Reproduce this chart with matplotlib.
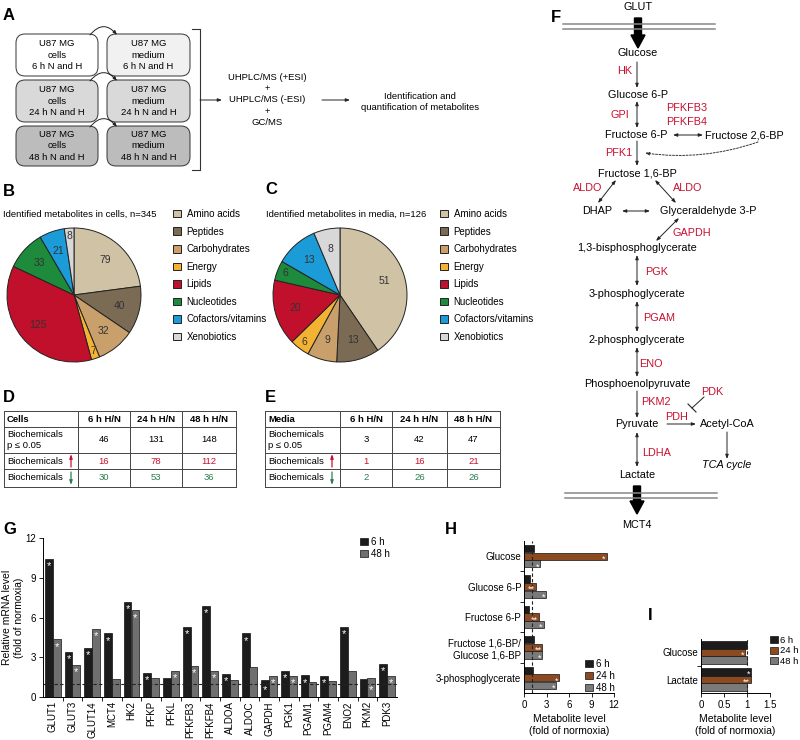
import numpy as np
import matplotlib.pyplot as plt
from matplotlib.patches import FancyBboxPatch, FancyArrow

plt.rcParams['font.family'] = ['Liberation Sans', 'DejaVu Sans']
plt.rcParams['font.size'] = 7
plt.rcParams['axes.linewidth'] = 0.7

# ---- data ----
pie_cats = ['Amino acids', 'Peptides', 'Carbohydrates', 'Energy', 'Lipids',
            'Nucleotides', 'Cofactors/vitamins', 'Xenobiotics']
pie_colors = ['#cfc2a5', '#7b6b55', '#c9a06c', '#f4b233', '#c1102b',
              '#1d8a3c', '#1b9bd7', '#d8d8d8']
cells_counts = [79, 40, 32, 7, 125, 33, 21, 8]
media_counts = [51, 13, 9, 6, 20, 6, 13, 8]

table_cols = ['6 h H/N', '24 h H/N', '48 h H/N']
cells_sig = [46, 131, 148]
cells_up = [16, 78, 112]
cells_down = [30, 53, 36]
media_sig = [3, 42, 47]
media_up = [1, 16, 21]
media_down = [2, 26, 26]

genes = ['GLUT1', 'GLUT3', 'GLUT14', 'MCT4', 'HK2', 'PFKP', 'PFKL', 'PFKFB3', 'PFKFB4',
         'ALDOA', 'ALDOC', 'GAPDH', 'PGK1', 'PGAM1', 'PGAM4', 'ENO2', 'PKM2', 'PDK3']
mrna_6h = [10.4, 3.4, 3.7, 4.8, 7.15, 1.8, 1.43, 5.3, 6.9,
           1.73, 4.8, 1.28, 1.96, 1.63, 1.58, 5.3, 1.35, 2.5]
mrna_48h = [4.35, 2.42, 5.15, 1.35, 6.53, 1.43, 1.96, 2.32, 1.96,
            1.3, 2.3, 1.58, 1.58, 1.12, 1.17, 1.96, 1.43, 1.6]
sig_6h = [1, 1, 1, 1, 1, 1, 0, 1, 1, 1, 1, 1, 1, 1, 1, 1, 0, 1]
sig_48h = [1, 1, 1, 0, 1, 0, 1, 1, 1, 0, 0, 1, 1, 0, 0, 0, 1, 1]

h_metabolites = ['Glucose', 'Glucose 6-P', 'Fructose 6-P',
                 'Fructose 1,6-BP/\nGlucose 1,6-BP', '3-phosphoglycerate']
h_6h = [1.3, 0.75, 0.7, 1.3, 1.2]
h_24h = [11.0, 1.6, 2.0, 2.45, 4.7]
h_48h = [2.1, 2.9, 2.6, 2.4, 4.25]
h_mark_6h = ['', '', '', '', '']
h_mark_24h = ['*', '**', '**', '**', '*']
h_mark_48h = ['*', '*', '*', '*', '*']

i_metabolites = ['Glucose', 'Lactate']
i_6h = [1.0, 1.08]
i_24h = [0.96, 1.08]
i_48h = [1.0, 1.0]
i_mark_6h = ['', '*']
i_mark_24h = ['*', '**']
i_mark_48h = ['', '']

c6, c24, c48 = '#1c1c1c', '#8b4a1f', '#7a7a7a'
red, green = '#c8102e', '#2e7d4f'

fig = plt.figure(figsize=(8, 7.4), dpi=100)
ov = fig.add_axes([0, 0, 1, 1])
ov.set_xlim(0, 800)
ov.set_ylim(740, 0)
ov.axis('off')


def box(x0, y0, x1, y1):
    a = fig.add_axes([x0 / 800, 1 - y1 / 740, (x1 - x0) / 800, (y1 - y0) / 740])
    a.set_facecolor('none')
    return a


def arr(x0, y0, x1, y1, style='-|>', **kw):
    ov.annotate('', xy=(x1, y1), xytext=(x0, y0),
                arrowprops=dict(arrowstyle=style + ',head_length=0.35,head_width=0.13',
                                color='#222', lw=0.7, shrinkA=0, shrinkB=0, **kw))


for lab, x, y in [('A', 3, 15), ('B', 3, 192), ('C', 265, 190), ('D', 3, 398), ('E', 265, 398),
                  ('F', 551, 17), ('G', 3, 530), ('H', 445, 530), ('I', 648, 615)]:
    ov.text(x, y, lab, fontsize=12, fontweight='bold', ha='left', va='center')

# ---- A: workflow ----
box_cols = [(16, 98), (107, 190)]
rows = [(34, 76), (80, 122), (126, 166)]
fills = [['white', '#f1f1f1'], ['#d9d9d9', '#d9d9d9'], ['#bcbcbc', '#bcbcbc']]
times = ['6 h', '24 h', '48 h']
for r, (y0, y1) in enumerate(rows):
    for c, (x0, x1) in enumerate(box_cols):
        ov.add_patch(FancyBboxPatch((x0, y0), x1 - x0, y1 - y0,
                                    boxstyle='round,pad=0,rounding_size=9',
                                    fc=fills[r][c], ec='#333', lw=0.7))
        what = 'cells' if c == 0 else 'medium'
        ov.text((x0 + x1) / 2, (y0 + y1) / 2, f'U87 MG\n{what}\n{times[r]} N and H',
                ha='center', va='center', fontsize=6.8, linespacing=1.3)
    arr(90, y0 + 1, 117, y0 + 1, connectionstyle='arc3,rad=-0.6')

ov.plot([192, 200, 200, 192], [29, 29, 170, 170], color='#333', lw=0.8)
arr(200, 100, 222, 100)
ov.text(267, 100, 'UHPLC/MS (+ESI)\n+\nUHPLC/MS (-ESI)\n+\nGC/MS',
        ha='center', va='center', fontsize=6.8, linespacing=1.35)
arr(322, 100, 350, 100)
ov.text(420, 102, 'Identification and\nquantification of metabolites',
        ha='center', va='center', fontsize=6.8, linespacing=1.3)


# ---- B, C: pies ----
def draw_pie(cx, title, counts, title_x, leg_x):
    ax = box(cx - 68, 227, cx + 68, 363)
    wedges, _ = ax.pie(counts, colors=pie_colors, startangle=90, counterclock=False,
                       wedgeprops=dict(edgecolor='#222', linewidth=0.7))
    ax.set_xlim(-68 / 67, 68 / 67)
    ax.set_ylim(-68 / 67, 68 / 67)
    total = sum(counts)
    for w, n in zip(wedges, counts):
        ang = np.deg2rad((w.theta1 + w.theta2) / 2)
        rr = 0.88 if n / total < 0.06 else 0.7
        ax.text(rr * np.cos(ang), rr * np.sin(ang), str(n), ha='center', va='center',
                fontsize=7.5, color='#333')
    ov.text(title_x, 214, title, ha='left', va='center', fontsize=6.8)
    ax.legend(wedges, pie_cats, loc='upper left', frameon=False,
              bbox_to_anchor=(leg_x / 800, 1 - 209 / 740), bbox_transform=fig.transFigure,
              fontsize=7, handlelength=0.8, handleheight=0.8, labelspacing=0.78,
              handletextpad=0.6, borderpad=0, borderaxespad=0)


draw_pie(74, 'Identified metabolites in cells, n=345', cells_counts, 3, 173)
draw_pie(340, 'Identified metabolites in media, n=126', media_counts, 266, 440)


# ---- D, E: tables ----
def draw_table(xc, name, sig, up, down):
    ys = [411, 427, 453, 469, 487]
    for y in ys:
        ov.plot([xc[0], xc[-1]], [y, y], color='#444', lw=0.7)
    for x in xc:
        ov.plot([x, x], [ys[0], ys[-1]], color='#444', lw=0.7)
    ov.text(xc[0] + 3, 419, name, fontweight='bold', ha='left', va='center', fontsize=6.8)
    ov.text(xc[0] + 3, 440, 'Biochemicals\np ≤ 0.05', ha='left', va='center', fontsize=6.8,
            linespacing=1.3)
    ov.text(xc[0] + 3, 461, 'Biochemicals', ha='left', va='center', fontsize=6.8)
    ov.text(xc[0] + 3, 478, 'Biochemicals', ha='left', va='center', fontsize=6.8)
    ov.annotate('', xy=(xc[0] + 67, 454), xytext=(xc[0] + 67, 467),
                arrowprops=dict(arrowstyle='-|>,head_length=0.35,head_width=0.12',
                                color=red, lw=0.9, shrinkA=0, shrinkB=0))
    ov.annotate('', xy=(xc[0] + 67, 485), xytext=(xc[0] + 67, 472),
                arrowprops=dict(arrowstyle='-|>,head_length=0.35,head_width=0.12',
                                color=green, lw=0.9, shrinkA=0, shrinkB=0))
    for k in range(3):
        mx = (xc[k + 1] + xc[k + 2]) / 2
        ov.text(mx, 419, table_cols[k], fontweight='bold', ha='center', va='center', fontsize=6.8)
        ov.text(mx, 440, str(sig[k]), ha='center', va='center', fontsize=6.8)
        ov.text(mx, 461, str(up[k]), ha='center', va='center', fontsize=6.8, color=red)
        ov.text(mx, 478, str(down[k]), ha='center', va='center', fontsize=6.8, color=green)


draw_table([4, 78, 130, 182, 236], 'Cells', cells_sig, cells_up, cells_down)
draw_table([265, 340, 392, 447, 500], 'Media', media_sig, media_up, media_down)

# ---- F: glycolysis pathway ----
fs = 7.8
for yy in (23.5, 28.5, 492.5, 497.5):
    x0, x1 = (563, 715) if yy < 100 else (565, 717)
    ov.plot([x0, x1], [yy, yy], color='#888', lw=1.1)
ov.text(638, 7, 'GLUT', ha='center', va='center', fontsize=fs)
ov.text(637, 525, 'MCT4', ha='center', va='center', fontsize=fs)
ov.add_patch(FancyArrow(638, 18, 0, 30, width=7, head_width=14, head_length=13,
                        length_includes_head=True, color='black'))
ov.add_patch(FancyArrow(637, 486, 0, 28, width=7, head_width=14, head_length=13,
                        length_includes_head=True, color='black'))

nodes = [('Glucose', 638, 53), ('Glucose 6-P', 638, 95), ('Fructose 6-P', 636, 135),
         ('Fructose 1,6-BP', 637, 173), ('DHAP', 597, 211), ('Glyceraldehyde 3-P', 708, 211),
         ('1,3-bisphosphoglycerate', 637, 248), ('3-phosphoglycerate', 637, 294),
         ('2-phosphoglycerate', 637, 340), ('Phosphoenolpyruvate', 637, 384),
         ('Pyruvate', 637, 424), ('Acetyl-CoA', 727, 424), ('Lactate', 637, 475)]
for t, x, y in nodes:
    ov.text(x, y, t, ha='center', va='center', fontsize=fs)
ov.text(705, 135, 'Fructose 2,6-BP', ha='left', va='center', fontsize=fs)
ov.text(727, 465, 'TCA cycle', ha='center', va='center', fontsize=fs, style='italic')

enzymes = [('HK', 625, 71), ('GPI', 620, 115), ('PFKFB3', 687, 108), ('PFKFB4', 687, 122),
           ('PFK1', 619, 153), ('ALDO', 588, 188), ('ALDO', 688, 188), ('GAPDH', 692, 233),
           ('PGK', 657, 272), ('PGAM', 659, 318), ('ENO', 651, 364), ('PKM2', 656, 402),
           ('PDK', 712, 392), ('PDH', 677, 417), ('LDHA', 657, 453)]
for t, x, y in enzymes:
    ov.text(x, y, t, ha='center', va='center', fontsize=fs, color=red)

arr(637, 62, 637, 88)
arr(637, 101, 637, 128, style='<|-|>')
arr(673, 135, 703, 135, style='<|-|>')
arr(637, 141, 637, 166)
arr(616, 180, 598, 203, style='<|-|>')
arr(655, 180, 676, 203, style='<|-|>')
arr(622, 211, 650, 211, style='<|-|>')
arr(679, 218, 656, 241, style='<|-|>')
arr(637, 255, 637, 286, style='<|-|>')
arr(637, 301, 637, 332, style='<|-|>')
arr(637, 347, 637, 377, style='<|-|>')
arr(637, 391, 637, 418)
arr(667, 424, 696, 424)
arr(727, 432, 727, 459)
arr(637, 432, 637, 467, style='<|-|>')
ov.annotate('', xy=(645, 153), xytext=(758, 142),
            arrowprops=dict(arrowstyle='-|>,head_length=0.35,head_width=0.13', color='#333',
                            lw=0.7, ls=(0, (2, 1.5)), shrinkA=0, shrinkB=0,
                            connectionstyle='arc3,rad=-0.12'))
ov.plot([704, 692], [397, 408], color='#222', lw=0.7)
ov.plot([688, 696], [404, 412], color='#222', lw=0.8)

# ---- G: mRNA bars ----
axg = box(43, 538, 397, 697)
xg = np.arange(len(genes))
axg.bar(xg - 0.2, mrna_6h, width=0.4, color=c6, edgecolor='#111', lw=0.5, label='6 h')
axg.bar(xg + 0.2, mrna_48h, width=0.4, color='#6f6f6f', edgecolor='#111', lw=0.5, label='48 h')
for xi, v, s in zip(xg - 0.2, mrna_6h, sig_6h):
    if s:
        axg.text(xi, v - 0.55 if v >= 1.5 else 0.55, '*', color='white', ha='center',
                 va='center', fontsize=8)
for xi, v, s in zip(xg + 0.2, mrna_48h, sig_48h):
    if s:
        axg.text(xi, v - 0.55 if v >= 1.5 else 0.55, '*', color='white', ha='center',
                 va='center', fontsize=8)
axg.axhline(1, color='#222', lw=0.8, ls=(0, (3, 2)))
axg.set_xlim(-0.5, len(genes) - 0.5)
axg.set_ylim(0, 12)
axg.set_yticks([0, 3, 6, 9, 12])
axg.set_xticks(xg)
axg.set_xticklabels(genes, rotation=90)
axg.set_xticks(xg[:-1] + 0.5, minor=True)
axg.tick_params(axis='x', which='major', length=0, pad=3, labelsize=7)
axg.tick_params(axis='x', which='minor', length=3, width=0.6)
axg.tick_params(axis='y', length=3, width=0.6, pad=2, labelsize=7)
axg.spines[['top', 'right']].set_visible(False)
axg.set_ylabel('Relative mRNA level\n(fold of normoxia)', fontsize=7.5)
axg.yaxis.set_label_coords(-0.055, 0.5)
axg.legend(loc='upper left', bbox_to_anchor=(360 / 800, 1 - 537 / 740),
           bbox_transform=fig.transFigure, frameon=False, fontsize=7,
           handlelength=0.8, handleheight=0.8, labelspacing=0.2, handletextpad=0.3,
           borderpad=0, borderaxespad=0)


# ---- H, I: metabolite bars ----
def hbars(ax, names, vals, marks, off, bh, dx):
    yy = np.arange(len(names))
    for v_list, m_list, o, col, lab in zip(vals, marks, off, [c6, c24, c48], ['6 h', '24 h', '48 h']):
        ax.barh(yy + o, v_list, height=bh, color=col, edgecolor='#111', lw=0.5, label=lab)
        for y, v, m in zip(yy + o, v_list, m_list):
            if m:
                ax.text(v - dx, y + 0.1, m, color='white', ha='right', va='center',
                        fontsize=6.5, linespacing=0.8)
    ax.set_yticks(yy)
    ax.set_yticklabels(names, multialignment='right')
    ax.set_yticks(yy[:-1] + 0.5, minor=True)
    ax.set_ylim(len(names) - 0.5, -0.5)
    ax.tick_params(axis='y', which='major', length=0, pad=2, labelsize=7)
    ax.tick_params(axis='y', which='minor', length=3, width=0.6)
    ax.tick_params(axis='x', length=3, width=0.6, pad=2, labelsize=7)
    ax.spines[['top', 'right']].set_visible(False)
    ax.axvline(1, color='#222', lw=0.8, ls=(0, (3, 2)))
    ax.set_xlabel('Metabolite level\n(fold of normoxia)', fontsize=7.5, labelpad=3)


axh = box(524, 541, 614, 693)
hbars(axh, h_metabolites, [h_6h, h_24h, h_48h], [h_mark_6h, h_mark_24h, h_mark_48h],
      [-0.25, 0, 0.25], 0.24, 0.1)
axh.set_xlim(0, 12)
axh.set_xticks([0, 3, 6, 9, 12])
axh.legend(loc='upper left', bbox_to_anchor=(585 / 800, 1 - 659 / 740),
           bbox_transform=fig.transFigure, frameon=False, fontsize=7,
           handlelength=0.8, handleheight=0.8, labelspacing=0.2, handletextpad=0.3,
           borderpad=0, borderaxespad=0)

axi = box(701, 639, 770, 693)
hbars(axi, i_metabolites, [i_6h, i_24h, i_48h], [i_mark_6h, i_mark_24h, i_mark_48h],
      [-0.28, 0, 0.28], 0.28, 0.01)
axi.set_xlim(0, 1.5)
axi.set_xticks([0, 0.5, 1, 1.5])
axi.set_xticklabels(['0', '0.5', '1', '1.5'])
axi.legend(loc='upper left', bbox_to_anchor=(770 / 800, 1 - 636 / 740),
           bbox_transform=fig.transFigure, frameon=False, fontsize=6.8,
           handlelength=0.8, handleheight=0.8, labelspacing=0.15, handletextpad=0.25,
           borderpad=0, borderaxespad=0)

fig.savefig('out.png', dpi=100)
